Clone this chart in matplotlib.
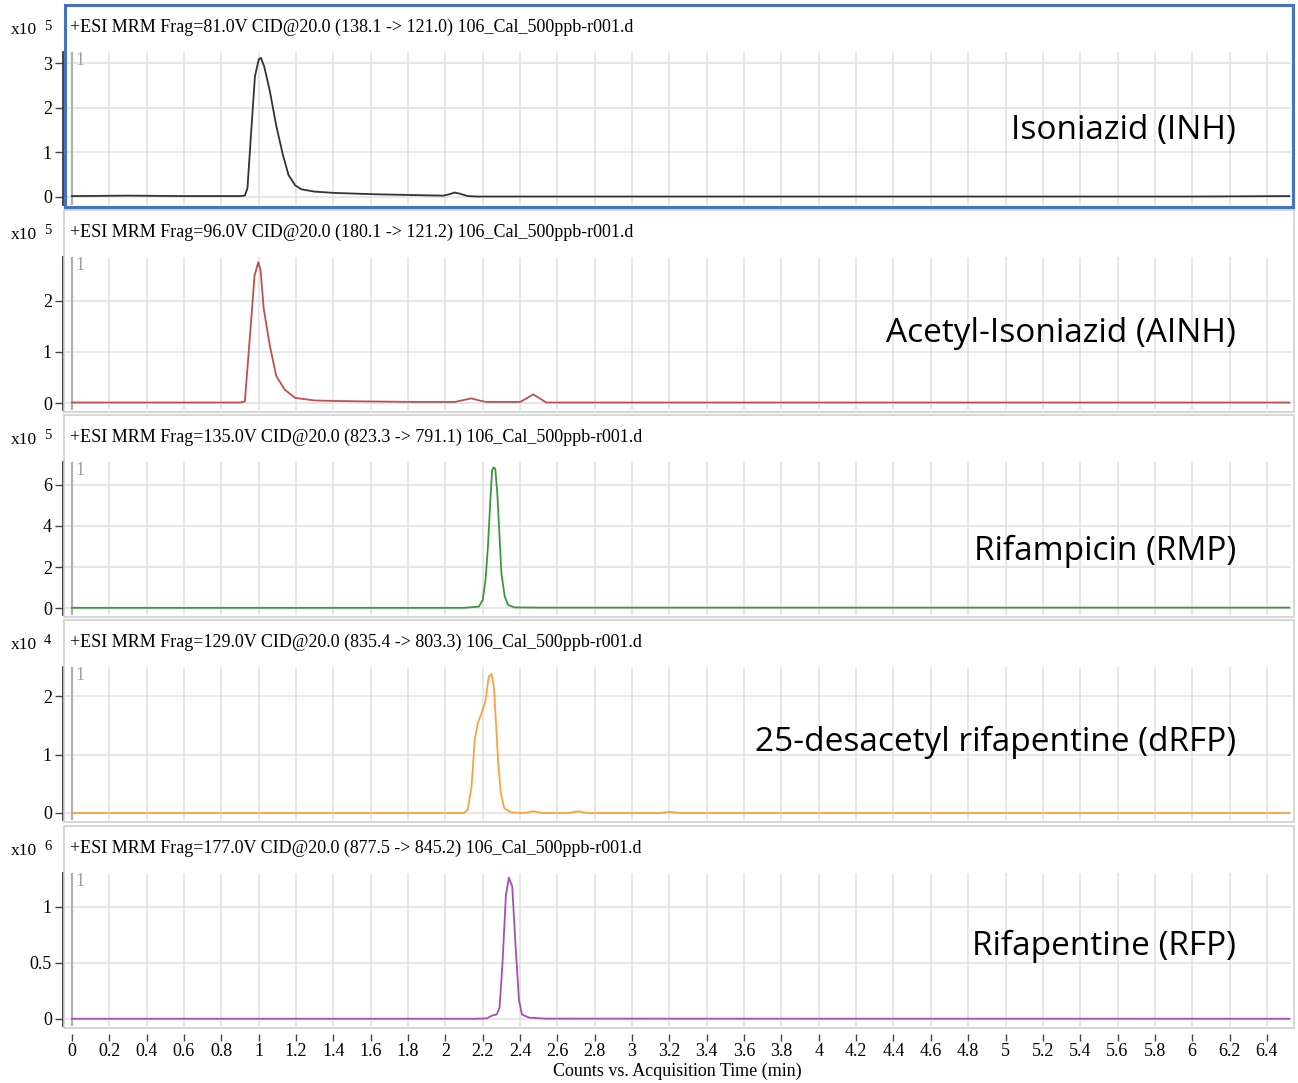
import matplotlib
matplotlib.use("Agg")
import matplotlib.pyplot as plt
from matplotlib.patches import Rectangle

W, H = 1298, 1083
SERIF = ["Liberation Serif", "DejaVu Serif"]
SANS = ["Open Sans", "Noto Sans", "DejaVu Sans"]

# --- traces (time in min, counts in units of the panel multiplier) ---
t_inh = [0, 0.3, 0.6, 0.9, 0.926, 0.94, 0.96, 0.98, 1.0, 1.012, 1.03, 1.06, 1.094, 1.13,
         1.16, 1.196, 1.23, 1.3, 1.41, 1.63, 1.86, 1.99, 2.02, 2.05, 2.08, 2.12, 2.17,
         3.0, 4.0, 5.0, 6.0, 6.52]
y_inh = [0.02, 0.03, 0.02, 0.02, 0.03, 0.2, 1.47, 2.7, 3.08, 3.12, 2.92, 2.37, 1.6, 0.94,
         0.49, 0.26, 0.17, 0.12, 0.09, 0.06, 0.04, 0.03, 0.06, 0.1, 0.07, 0.02, 0.01,
         0.01, 0.01, 0.01, 0.01, 0.02]

t_ainh = [0, 0.5, 0.9, 0.926, 0.955, 0.978, 0.998, 1.01, 1.027, 1.06, 1.094, 1.14, 1.195,
          1.3, 1.41, 1.6, 1.86, 2.05, 2.1, 2.14, 2.18, 2.22, 2.4, 2.43, 2.47, 2.51, 2.54,
          3.0, 6.52]
y_ainh = [0.01, 0.01, 0.01, 0.03, 1.39, 2.5, 2.76, 2.6, 1.85, 1.12, 0.53, 0.26, 0.1,
          0.05, 0.04, 0.03, 0.02, 0.02, 0.06, 0.09, 0.05, 0.02, 0.02, 0.08, 0.17, 0.08, 0.01,
          0.01, 0.01]

t_rmp = [0, 2.1, 2.18, 2.2, 2.215, 2.228, 2.24, 2.25, 2.258, 2.267, 2.278, 2.29, 2.30,
         2.318, 2.336, 2.37, 2.5, 6.52]
y_rmp = [0.01, 0.01, 0.07, 0.4, 1.37, 3.0, 5.1, 6.7, 6.85, 6.8, 5.6, 3.5, 1.7,
         0.55, 0.15, 0.03, 0.02, 0.02]

t_drfp = [0, 2.1, 2.12, 2.14, 2.157, 2.175, 2.193, 2.215, 2.232, 2.247, 2.26, 2.27, 2.283,
          2.297, 2.315, 2.354, 2.42, 2.47, 2.52, 2.66, 2.71, 2.76, 3.15, 3.2, 3.25, 6.52]
y_drfp = [0.0, 0.0, 0.06, 0.45, 1.25, 1.56, 1.7, 1.93, 2.33, 2.38, 2.16, 1.59, 0.85,
          0.34, 0.08, 0.01, 0.0, 0.03, 0.0, 0.0, 0.03, 0.0, 0.0, 0.02, 0.0, 0.0]

t_rfp = [0, 2.155, 2.22, 2.25, 2.275, 2.29, 2.306, 2.324, 2.34, 2.358, 2.376, 2.394, 2.41,
         2.448, 2.54, 6.52]
y_rfp = [0.002, 0.002, 0.005, 0.03, 0.04, 0.1, 0.5, 1.1, 1.26, 1.18, 0.65, 0.17, 0.04,
         0.012, 0.003, 0.002]

titles = [
    "+ESI MRM Frag=81.0V CID@20.0 (138.1 -> 121.0) 106_Cal_500ppb-r001.d",
    "+ESI MRM Frag=96.0V CID@20.0 (180.1 -> 121.2) 106_Cal_500ppb-r001.d",
    "+ESI MRM Frag=135.0V CID@20.0 (823.3 -> 791.1) 106_Cal_500ppb-r001.d",
    "+ESI MRM Frag=129.0V CID@20.0 (835.4 -> 803.3) 106_Cal_500ppb-r001.d",
    "+ESI MRM Frag=177.0V CID@20.0 (877.5 -> 845.2) 106_Cal_500ppb-r001.d",
]
compounds = ["Isoniazid (INH)", "Acetyl-Isoniazid (AINH)", "Rifampicin (RMP)",
             "25-desacetyl rifapentine (dRFP)", "Rifapentine (RFP)"]
exponents = ["5", "5", "5", "4", "6"]
ytick_vals = [[0, 1, 2, 3], [0, 1, 2], [0, 2, 4, 6], [0, 1, 2], [0, 0.5, 1]]
ytick_labels = [["0", "1", "2", "3"], ["0", "1", "2"], ["0", "2", "4", "6"],
                ["0", "1", "2"], ["0", "0.5", "1"]]
ylims = [(-0.18, 3.25), (-0.137, 2.86), (-0.34, 7.12), (-0.12, 2.5), (-0.0625, 1.30)]
xtick_labels = ["0", "0.2", "0.4", "0.6", "0.8", "1", "1.2", "1.4", "1.6", "1.8", "2",
                "2.2", "2.4", "2.6", "2.8", "3", "3.2", "3.4", "3.6", "3.8", "4", "4.2",
                "4.4", "4.6", "4.8", "5", "5.2", "5.4", "5.6", "5.8", "6", "6.2", "6.4"]
xtick_vals = [float(s) for s in xtick_labels]

traces = [(t_inh, y_inh), (t_ainh, y_ainh), (t_rmp, y_rmp), (t_drfp, y_drfp), (t_rfp, y_rfp)]
colors = ["#333333", "#c0504d", "#3a9a3a", "#ffa040", "#a94db5"]

# panel frames in pixels (top, bottom)
frames = [(5, 207), (210, 412), (415, 617), (620, 822), (826, 1028)]
label_y = [131, 334, 551, 742, 946]

fig = plt.figure(figsize=(W / 100, H / 100), dpi=100)
fig.patch.set_facecolor("white")

def fx(px):
    return px / W

def fy(py):
    return 1 - py / H

X0, X1 = 63, 1291
for i, (top, bot) in enumerate(frames):
    # frame
    if i == 0:
        fig.add_artist(Rectangle((fx(65), fy(bot)), fx(1293) - fx(65), fy(top) - fy(bot),
                                 transform=fig.transFigure, fill=False,
                                 edgecolor="#4472c4", lw=2.2, zorder=5))
    else:
        fig.add_artist(Rectangle((fx(64), fy(bot)), fx(1294) - fx(64), fy(top) - fy(bot),
                                 transform=fig.transFigure, fill=False,
                                 edgecolor="#cfcfcf", lw=1.2, zorder=5))

    a_top, a_bot = top + 47, bot - 2
    ax = fig.add_axes([fx(X0), fy(a_bot), fx(X1) - fx(X0), fy(a_top) - fy(a_bot)])
    t, y = traces[i]
    ax.plot(t, y, color=colors[i], lw=1.3, zorder=3)
    ax.set_xlim(-0.048, 6.529)
    ax.set_ylim(*ylims[i])
    ax.axvline(0, color="#b0b0b0", lw=1.6, zorder=2)
    ax.text(0.02, ylims[i][1], "1", color="#a0a0a0", fontsize=13, family=SERIF,
            va="top", ha="left")

    for s in ["top", "right", "bottom"]:
        ax.spines[s].set_visible(False)
    ax.spines["left"].set_color("#333333")
    ax.spines["left"].set_linewidth(1.3)

    ax.set_yticks(ytick_vals[i])
    ax.set_yticklabels(ytick_labels[i], family=SERIF, fontsize=13)
    ax.tick_params(axis="y", direction="out", length=6, width=1, color="#444444", pad=2)
    ax.set_xticks(xtick_vals)
    ax.grid(True, color="#e0e0e0", lw=1.1, zorder=0)
    ax.set_axisbelow(True)

    if i == len(frames) - 1:
        ax.spines["bottom"].set_visible(True)
        ax.spines["bottom"].set_position(("outward", 6))
        ax.spines["bottom"].set_color("none")
        ax.set_xticklabels(xtick_labels, family=SERIF, fontsize=13)
        ax.tick_params(axis="x", direction="out", length=5, width=1, color="#444444", pad=1)
        ax.set_xlabel("Counts vs. Acquisition Time (min)", family=SERIF, fontsize=13,
                      labelpad=2)
    else:
        ax.tick_params(axis="x", length=0, labelbottom=False)

    # header texts
    fig.text(fx(70), fy(top + 22), titles[i], family=SERIF, fontsize=13,
             va="center", ha="left")
    fig.text(fx(11), fy(top + 25), "x10", family=SERIF, fontsize=12.5, va="center", ha="left")
    fig.text(fx(44), fy(top + 21), exponents[i], family=SERIF, fontsize=10.5,
             va="center", ha="left")
    fig.text(fx(1236), fy(label_y[i]), compounds[i], family=SANS, fontsize=24,
             va="center", ha="right")

fig.savefig("out.png", dpi=100, facecolor="white")
